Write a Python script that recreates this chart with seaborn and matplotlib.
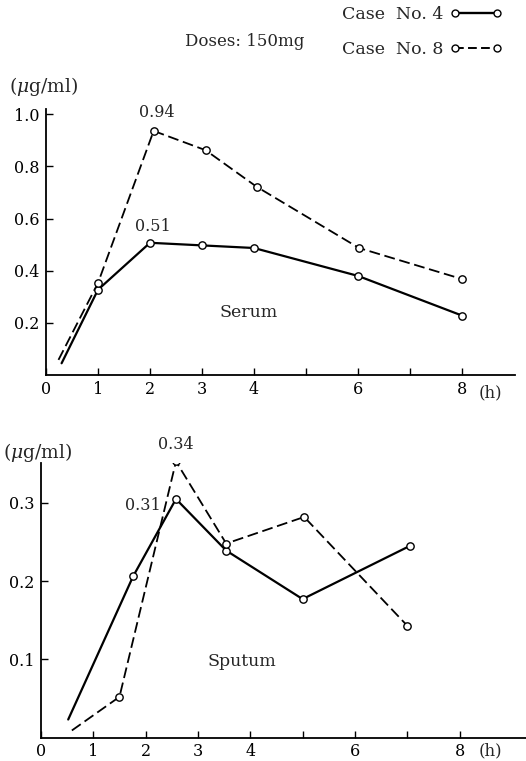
import matplotlib
matplotlib.use('Agg')
import matplotlib.pyplot as plt
import seaborn as sns
import pandas as pd
from matplotlib.lines import Line2D

# ---------------- data ----------------
serum_hours_4 = [0.3, 1, 2, 3, 4, 6, 8]
serum_conc_4 = [0.045, 0.327, 0.507, 0.497, 0.487, 0.38, 0.228]
serum_hours_8 = [0.24, 1, 2.07, 3.07, 4.05, 6.02, 8]
serum_conc_8 = [0.058, 0.353, 0.936, 0.862, 0.722, 0.487, 0.368]

sputum_hours_4 = [0.52, 1.76, 2.58, 3.54, 5.0, 7.05]
sputum_conc_4 = [0.023, 0.206, 0.305, 0.239, 0.177, 0.245]
sputum_hours_8 = [0.59, 1.5, 2.58, 3.54, 5.03, 7.0]
sputum_conc_8 = [0.009, 0.052, 0.353, 0.248, 0.282, 0.143]

cases = ['Case  No. 4', 'Case  No. 8']
x_ticks = [0, 1, 2, 3, 4, 5, 6, 7, 8]
x_tick_labels = ['0', '1', '2', '3', '4', '', '6', '', '8']
serum_y_ticks = [0.2, 0.4, 0.6, 0.8, 1.0]
serum_y_labels = ['0.2', '0.4', '0.6', '0.8', '1.0']
sputum_y_ticks = [0.1, 0.2, 0.3]
sputum_y_labels = ['0.1', '0.2', '0.3']


def make_df(h4, c4, h8, c8):
    rows = []
    for case, hs, cs in ((cases[0], h4, c4), (cases[1], h8, c8)):
        for i, (h, c) in enumerate(zip(hs, cs)):
            rows.append({'hours': h, 'conc': c, 'case': case, 'marked': i > 0})
    return pd.DataFrame(rows)


serum_df = make_df(serum_hours_4, serum_conc_4, serum_hours_8, serum_conc_8)
sputum_df = make_df(sputum_hours_4, sputum_conc_4, sputum_hours_8, sputum_conc_8)

sns.set_theme(style='ticks')
plt.rcParams['font.family'] = ['DejaVu Serif']
plt.rcParams['mathtext.fontset'] = 'dejavuserif'

W, H = 526, 761
fig = plt.figure(figsize=(W / 100, H / 100), dpi=100)
fig.patch.set_facecolor('white')

ax1 = fig.add_axes([46 / W, 1 - 375 / H, (515 - 46) / W, (375 - 109) / H])
ax2 = fig.add_axes([41 / W, 1 - 737.5 / H, (526 - 41) / W, (737.5 - 463) / H])

dash_map = {cases[0]: '', cases[1]: (6, 2.6)}


def draw(ax, df):
    sns.lineplot(data=df, x='hours', y='conc', style='case', dashes=dash_map,
                 color='black', linewidth=1.6, ax=ax, legend=False,
                 sort=False, estimator=None)
    for ln in ax.lines:
        if ln.get_linestyle() != '-':
            ln.set_linewidth(1.3)
    sns.scatterplot(data=df[df['marked']], x='hours', y='conc', marker='o',
                    s=28, facecolor='white', edgecolor='black', linewidth=1.0,
                    ax=ax, legend=False, zorder=5)


draw(ax1, serum_df)
draw(ax2, sputum_df)

for ax in (ax1, ax2):
    ax.set_facecolor('white')
    sns.despine(ax=ax)
    for sp in ('left', 'bottom'):
        ax.spines[sp].set_color('black')
        ax.spines[sp].set_linewidth(1.3)
    ax.set_xticks(x_ticks)
    ax.set_xticklabels(x_tick_labels)
    ax.tick_params(direction='in', length=5, width=1.0, colors='black',
                   labelsize=11.5, pad=4)
    ax.tick_params(axis='y', pad=5)
    ax.set_xlabel('')
    ax.set_ylabel('')
    ax.grid(False)

ax1.set_xlim(0, 9.02)
ax1.set_ylim(0, 1.02)
ax1.set_yticks(serum_y_ticks)
ax1.set_yticklabels(serum_y_labels)

ax2.set_xlim(0, 9.27)
ax2.set_ylim(0, 0.351)
ax2.set_yticks(sputum_y_ticks)
ax2.set_yticklabels(sputum_y_labels)

# annotations
ax1.text(2.13, 0.975, '0.94', ha='center', va='bottom', fontsize=11.5)
ax1.text(2.05, 0.535, '0.51', ha='center', va='bottom', fontsize=11.5)
ax1.text(3.9, 0.24, 'Serum', ha='center', va='center', fontsize=12.5)
ax2.text(2.58, 0.364, '0.34', ha='center', va='bottom', fontsize=11.5, clip_on=False)
ax2.text(1.95, 0.297, '0.31', ha='center', va='center', fontsize=11.5)
ax2.text(3.83, 0.097, 'Sputum', ha='center', va='center', fontsize=12.5)

# units / axis text
fig.text(44 / W, 1 - 87 / H, '($\\mu$g/ml)', ha='center', va='center', fontsize=13.5)
fig.text(38 / W, 1 - 452 / H, '($\\mu$g/ml)', ha='center', va='center', fontsize=13.5)
fig.text(490 / W, 1 - 393 / H, '(h)', ha='center', va='center', fontsize=12)
fig.text(490 / W, 1 - 751 / H, '(h)', ha='center', va='center', fontsize=12)

# title and legend
fig.text(245 / W, 1 - 42 / H, 'Doses: 150mg', ha='center', va='center', fontsize=12)
handles = [
    Line2D([], [], color='black', linestyle='-', linewidth=1.7, marker='o',
           markersize=5, markerfacecolor='white', markeredgecolor='black',
           markeredgewidth=1.0),
    Line2D([], [], color='black', linestyle=(0, (4.5, 2.2)), linewidth=1.4, marker='o',
           markersize=5, markerfacecolor='white', markeredgecolor='black',
           markeredgewidth=1.0),
]
fig.legend(handles, cases, loc='upper right', bbox_to_anchor=(502 / W, 1 - 6 / H),
           frameon=False, numpoints=2, markerfirst=False, handlelength=3.0,
           handletextpad=0.4, labelspacing=1.05, fontsize=12.5,
           borderaxespad=0, borderpad=0)

fig.savefig('out.png', dpi=100, facecolor='white')
